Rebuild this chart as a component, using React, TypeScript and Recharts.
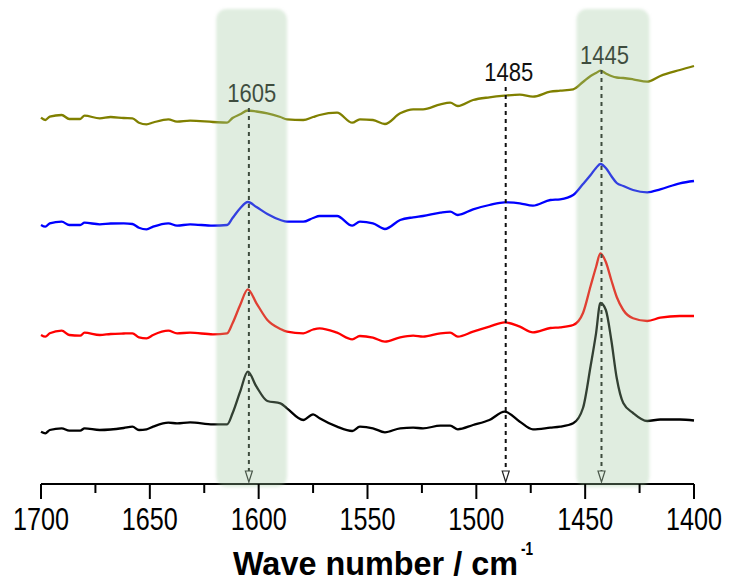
import React from 'react'
import { LineChart, Line, XAxis, YAxis, ReferenceArea, ReferenceLine } from 'recharts'

// wave numbers (cm-1) shared by all four spectra
const wavenumbers = [
  1700, 1698, 1696, 1690.5, 1687, 1682, 1680, 1673, 1668, 1662, 1658, 1655, 1651.5, 1648.5, 1641.5,
  1637.5, 1631.5, 1621, 1614.5, 1612, 1608.5, 1605, 1601, 1596, 1590, 1587, 1579.5, 1575, 1572, 1564,
  1557, 1553.5, 1547.5, 1542, 1535, 1529, 1524.5, 1516.5, 1512, 1508.5, 1501.5, 1494, 1487, 1480, 1474,
  1466, 1461.5, 1455.5, 1451, 1447.5, 1445, 1443, 1440.5, 1438, 1435.5, 1432.5, 1428, 1421.5, 1415.5,
  1406.5, 1400,
]

// offset intensities (a.u.), top to bottom
const oliveTrace = [
  366.3, 364, 367.3, 369, 365, 365, 368.3, 365.7, 367, 366, 365.7, 361.3, 359.7, 361.5, 364.7,
  362.3, 363.3, 362, 361.3, 366, 369.7, 373.5, 372.5, 370.7, 367, 364.7, 364, 367, 369, 371.3,
  361.3, 364.7, 364, 360, 370.7, 374.7, 374.7, 379.7, 381.3, 378, 384, 386.7, 388.3, 389.3, 387.3,
  392.3, 393.3, 394.7, 402, 408, 411, 413.3, 410.5, 408, 406.5, 406, 404.7, 402.3, 408,
  414, 418,
]
const blueTrace = [
  259, 257.3, 260.7, 262.3, 259, 259, 261.3, 259.7, 260.5, 260.7, 260, 256.3, 254.7, 257.3, 260.7,
  258.3, 259.7, 258.3, 259, 266, 275.7, 282, 277, 270, 264, 262.3, 262.3, 266, 268, 268,
  258.3, 262.3, 260.7, 255, 264, 266.7, 268, 271.3, 272.3, 269, 274.7, 279, 281.7, 280.7, 278.3,
  284, 284.7, 289, 300, 309, 316, 320, 316, 308, 301, 298, 294, 291.7, 294.7,
  300.7, 303,
]
const redTrace = [
  149, 147.3, 150.7, 153.3, 149, 148.3, 151.3, 149, 150, 150.5, 150.7, 146.7, 145.7, 149, 153.3,
  150.7, 151.3, 149.7, 150.7, 160.7, 179, 194.7, 180.7, 164, 155, 152.3, 150.7, 154.5, 155.7, 151.3,
  144.7, 148, 146.3, 142.3, 146.7, 148.3, 147.3, 150.7, 151.3, 147.3, 152.3, 157.3, 161.7, 157.3, 151.7,
  156, 156.7, 159, 171, 198, 217, 230.7, 222, 204, 187, 174, 165.7, 163, 166.3,
  168, 168,
]
const blackTrace = [
  52.3, 50.7, 54, 55.7, 53.3, 53.3, 55.7, 54, 54.5, 56, 57.3, 54, 54.7, 57.3, 61.3,
  60.7, 61.7, 59.7, 59.7, 70.7, 92.3, 112.3, 97.3, 83, 80.7, 75.7, 64, 69.7, 65.7, 57.3,
  53, 57.3, 55.7, 51.7, 55.7, 56.3, 55.7, 58.3, 58.3, 54.7, 59, 64, 72.3, 62.3, 54.7,
  56.3, 57.3, 60.7, 76, 118, 150.7, 181, 174, 144, 106, 81, 71, 63, 64.5,
  64.5, 63.5,
]

const xTicks = [1700, 1675, 1650, 1625, 1600, 1575, 1550, 1525, 1500, 1475, 1450, 1425, 1400]
const majorTicks = [1700, 1650, 1600, 1550, 1500, 1450, 1400]

const bands = [
  { from: 1619.5, to: 1587 },
  { from: 1454, to: 1420.5 },
]

const markers = [
  { at: 1604.5, top: 376, text: '1605' },
  { at: 1486.5, top: 397, text: '1485' },
  { at: 1442.5, top: 414, text: '1445' },
]

const chartData = wavenumbers.map((w, i) => ({
  w,
  olive: oliveTrace[i],
  blue: blueTrace[i],
  red: redTrace[i],
  black: blackTrace[i],
}))

const AXIS_Y = 484
const FONT = '"Liberation Sans", Arial, sans-serif'

const AxisTick = (props: any) => {
  const { x, payload } = props
  const major = majorTicks.includes(payload.value)
  return (
    <g>
      <line x1={x} x2={x} y1={AXIS_Y} y2={major ? AXIS_Y + 15 : AXIS_Y + 9} stroke="#000" strokeWidth={2} />
      {major && (
        <text
          x={x}
          y={530}
          textAnchor="middle"
          fontSize={31}
          fontFamily={FONT}
          fill="#000"
          textLength={56}
          lengthAdjust="spacingAndGlyphs"
        >
          {payload.value}
        </text>
      )}
    </g>
  )
}

const AxisTitle = () => (
  <g fontFamily={FONT} fontWeight="bold" fill="#000">
    <text x={233} y={575} fontSize={34} textLength={285} lengthAdjust="spacingAndGlyphs">
      Wave number / cm
    </text>
    <text x={521} y={555} fontSize={19} textLength={12} lengthAdjust="spacingAndGlyphs">
      -1
    </text>
  </g>
)

const Band = (props: any) => {
  const { x, y, width, height } = props
  return (
    <g>
      <defs>
        <filter id="bandSoft" x="-20%" y="-5%" width="140%" height="110%">
          <feGaussianBlur stdDeviation="1.6" />
        </filter>
      </defs>
      <rect
        x={x}
        y={y + 4}
        width={width}
        height={height - 1}
        rx={10}
        fill="#a0c6a0"
        fillOpacity={0.32}
        filter="url(#bandSoft)"
      />
    </g>
  )
}

const Marker = (props: any) => {
  const { x1, y1, y2, text } = props
  const top = Math.min(y1, y2)
  const tip = Math.max(y1, y2)
  return (
    <g>
      <line x1={x1} x2={x1} y1={top} y2={tip - 10} stroke="#111" strokeWidth={2} strokeDasharray="4 4" />
      <path
        d={`M${x1 - 3.5},${tip - 11} L${x1},${tip} L${x1 + 3.5},${tip - 11} Z`}
        fill="#fff"
        stroke="#222"
        strokeWidth={1.2}
      />
      <text
        x={x1 + 3}
        y={top - 6}
        textAnchor="middle"
        fontSize={25}
        fontFamily={FONT}
        fill="#111"
        textLength={49}
        lengthAdjust="spacingAndGlyphs"
      >
        {text}
      </text>
    </g>
  )
}

const App: React.FC = () => {
  return (
    <div style={{ width: 730, height: 582, background: '#fff' }}>
      <style>{'body{margin:0;background:#fff}'}</style>
      <LineChart
        width={730}
        height={582}
        data={chartData}
        margin={{ top: 5, right: 36, left: 41, bottom: 0 }}
      >
        <XAxis
          dataKey="w"
          type="number"
          domain={[1400, 1700]}
          reversed
          ticks={xTicks}
          interval={0}
          tickLine={false}
          axisLine={{ stroke: '#000', strokeWidth: 2 }}
          tick={<AxisTick />}
          height={98}
          label={<AxisTitle />}
        />
        <YAxis hide type="number" domain={[0, 479]} />
        <Line type="monotone" dataKey="olive" stroke="#808000" strokeWidth={2.3} dot={false} isAnimationActive={false} />
        <Line type="monotone" dataKey="blue" stroke="#0000ff" strokeWidth={2.3} dot={false} isAnimationActive={false} />
        <Line type="monotone" dataKey="red" stroke="#ff0000" strokeWidth={2.3} dot={false} isAnimationActive={false} />
        <Line type="monotone" dataKey="black" stroke="#000000" strokeWidth={2.3} dot={false} isAnimationActive={false} />
        {markers.map((m) => (
          <ReferenceLine
            key={m.text}
            segment={[{ x: m.at, y: m.top }, { x: m.at, y: 2 }]}
            ifOverflow="visible"
            shape={(p: any) => <Marker {...p} text={m.text} />}
          />
        ))}
        {bands.map((b, i) => (
          <ReferenceArea
            key={i}
            x1={b.from}
            x2={b.to}
            ifOverflow="visible"
            shape={<Band />}
            zIndex={1000}
          />
        ))}
      </LineChart>
    </div>
  )
}

export default App
